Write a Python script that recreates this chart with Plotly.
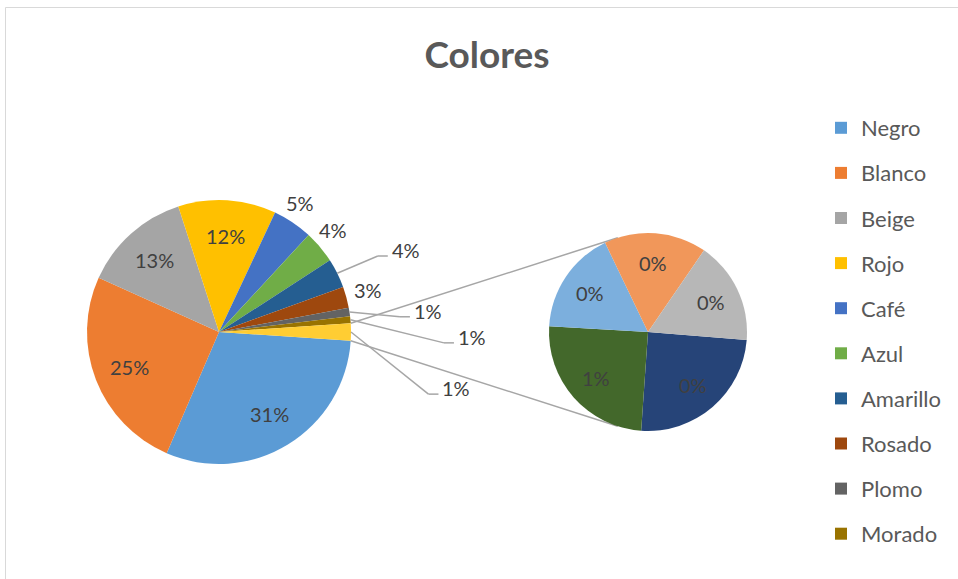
import math
import plotly.graph_objects as go

W, H = 958, 579

# ---------------- data ----------------
colores = ["Negro", "Blanco", "Beige", "Rojo", "Café", "Azul",
           "Amarillo", "Rosado", "Plomo", "Morado"]
valores = [30.5, 25.3, 13.3, 12.0, 4.9, 4.0, 3.6, 2.6, 1.05, 0.85]
etiquetas = ["31%", "25%", "13%", "12%", "5%", "4%", "4%", "3%", "1%", "1%"]

# secondary pie (breakdown of the "other" slice)
sec_nombres = ["Otro 1", "Otro 2", "Otro 3", "Otro 4", "Otro 5"]
sec_valores = [0.52, 0.52, 0.355, 0.35, 0.35]
sec_etiquetas = ["0%", "1%", "0%", "0%", "0%"]
otros_nombre = "Otros"
otros_etiqueta = "1%"

# ---------------- styles ----------------
main_colors = ["#5B9BD5", "#ED7D31", "#A5A5A5", "#FFC000", "#4472C4", "#70AD47",
               "#255E91", "#9E480E", "#636363", "#997300"]
otros_color = "#FFCD33"
sec_colors = ["#264478", "#43682B", "#7CAFDD", "#F1975A", "#B7B7B7"]

FONT = "Lato"
LABEL_COLOR = "#404040"
TEXT_COLOR = "#595959"
LINE_COLOR = "#A6A6A6"

# geometry (pixels)
main_c, main_r = (219.0, 332.0), 132.0
sec_c, sec_r = (648.0, 332.0), 99.0
sec_rotation = 94.6
inside_factor_main = 0.73
inside_factor_sec = 0.70
n_inside = 4  # first four slices labelled inside
# outside label placement: (distance from centre px, angle deg clockwise from 12, leader?)
ext_place = {4: (152, 32.2, False), 5: (153, 48.3, False), 6: (204, 66.3, True),
             7: (155, 74.3, False), 8: (210, 84.2, True), 9: (253, 91.1, True)}
otros_place = (244, 103.3, True)
label_half_w = 15


def px(x):
    return x / W


def py(y):
    return 1 - y / H


def polar(c, r, ang):
    a = math.radians(ang)
    return c[0] + r * math.sin(a), c[1] - r * math.cos(a)


all_vals = valores + [sum(sec_valores)]
total = sum(all_vals)
otros_ang = sum(sec_valores) / total * 360
main_rotation = 90 + otros_ang / 2

fig = go.Figure()

fig.add_trace(go.Pie(
    labels=colores + [otros_nombre], values=all_vals, sort=False,
    direction="clockwise", rotation=main_rotation,
    marker=dict(colors=main_colors + [otros_color], line=dict(width=0)),
    textinfo="none", showlegend=False,
    domain=dict(x=[px(main_c[0] - main_r), px(main_c[0] + main_r)],
                y=[py(main_c[1] + main_r), py(main_c[1] - main_r)]),
))

fig.add_trace(go.Pie(
    labels=sec_nombres, values=sec_valores, sort=False,
    direction="clockwise", rotation=sec_rotation,
    marker=dict(colors=sec_colors, line=dict(width=0)),
    textinfo="none", showlegend=False,
    domain=dict(x=[px(sec_c[0] - sec_r), px(sec_c[0] + sec_r)],
                y=[py(sec_c[1] + sec_r), py(sec_c[1] - sec_r)]),
))

# legend via dummy traces
for name, col in zip(colores, main_colors):
    fig.add_trace(go.Scatter(x=[None], y=[None], mode="markers", name=name,
                             legendgroup=name,
                             marker=dict(symbol="square", size=12, color=col)))

annotations = []
shapes = []


def add_label(x, y, text):
    annotations.append(dict(x=px(x), y=py(y), xref="paper", yref="paper", text=text,
                            showarrow=False, xanchor="center", yanchor="middle",
                            font=dict(family=FONT, size=20, color=LABEL_COLOR)))


def add_line(x0, y0, x1, y1, layer="above"):
    shapes.append(dict(type="line", xref="paper", yref="paper",
                       x0=px(x0), y0=py(y0), x1=px(x1), y1=py(y1),
                       line=dict(color=LINE_COLOR, width=1.5), layer=layer))


# main pie labels
start = main_rotation
mids = []
for v in all_vals:
    span = v / total * 360
    mids.append(start + span / 2)
    start += span

for i, txt in enumerate(etiquetas):
    mid = mids[i]
    if i < n_inside:
        x, y = polar(main_c, main_r * inside_factor_main, mid)
        add_label(x, y, txt)
    else:
        dist, ang, leader = ext_place[i]
        x, y = polar(main_c, dist, ang)
        add_label(x, y, txt)
        if leader:
            ex, ey = polar(main_c, main_r, mid)
            lx = x - label_half_w
            add_line(ex, ey, lx - 13, y + 6)
            add_line(lx - 13, y + 6, lx - 3, y + 6)

# other slice label
dist, ang, leader = otros_place
x, y = polar(main_c, dist, ang)
add_label(x, y, otros_etiqueta)
ex, ey = polar(main_c, main_r, mids[-1])
lx = x - label_half_w
add_line(ex, ey, lx - 13, y + 6)
add_line(lx - 13, y + 6, lx - 3, y + 6)

# secondary labels
start = sec_rotation
stot = sum(sec_valores)
for v, txt in zip(sec_valores, sec_etiquetas):
    span = v / stot * 360
    x, y = polar(sec_c, sec_r * inside_factor_sec, start + span / 2)
    add_label(x, y, txt)
    start += span

# connector lines (tangents from the "other" slice corners to the secondary pie)
for sign, ang in ((-1, 90 - otros_ang / 2), (1, 90 + otros_ang / 2)):
    P = polar(main_c, main_r, ang)
    dx, dy = sec_c[0] - P[0], sec_c[1] - P[1]
    d = math.hypot(dx, dy)
    alpha = math.asin(sec_r / d)
    phi = math.atan2(dy, dx) + sign * alpha
    L = math.sqrt(d * d - sec_r * sec_r)
    T = (P[0] + L * math.cos(phi), P[1] + L * math.sin(phi))
    add_line(P[0], P[1], T[0], T[1], layer="below")

# chart border
shapes.append(dict(type="rect", xref="paper", yref="paper",
                   x0=px(5.5), y0=py(7.5), x1=1.02, y1=-0.02,
                   line=dict(color="#D9D9D9", width=1), layer="below"))

fig.update_layout(
    width=W, height=H,
    margin=dict(l=0, r=0, t=0, b=0),
    paper_bgcolor="white", plot_bgcolor="white",
    title=dict(text="<b>Colores</b>", x=487 / W, xanchor="center",
               y=1 - 55 / H, yanchor="middle",
               font=dict(family=FONT, size=37, color=TEXT_COLOR)),
    xaxis=dict(visible=False), yaxis=dict(visible=False),
    legend=dict(x=821 / W, y=1 - 107 / H, xanchor="left", yanchor="top",
                font=dict(family=FONT, size=22, color=TEXT_COLOR),
                tracegroupgap=13.5, bgcolor="rgba(0,0,0,0)"),
    annotations=annotations, shapes=shapes,
)

fig.write_html("out.html")
